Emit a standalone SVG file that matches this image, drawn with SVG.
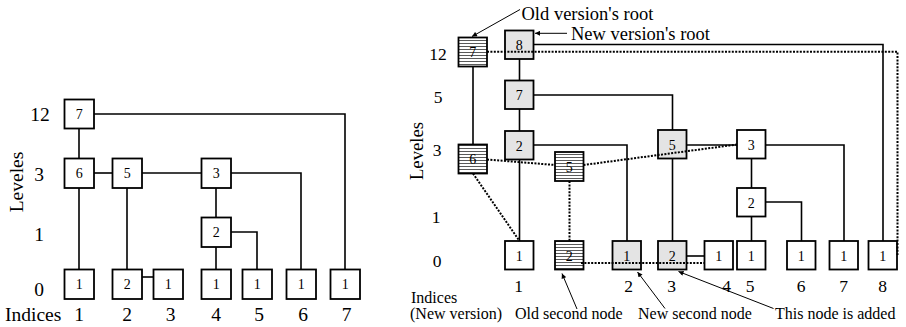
<svg xmlns="http://www.w3.org/2000/svg" width="906" height="327" viewBox="0 0 906 327">
<defs>
<pattern id="hatch" patternUnits="userSpaceOnUse" width="6" height="3">
<rect width="6" height="3" fill="#ffffff"/>
<line x1="0" y1="1.5" x2="6" y2="1.5" stroke="#5a5a5a" stroke-width="1"/>
</pattern>
<marker id="ah" viewBox="0 0 10 10" refX="10" refY="5" markerWidth="7" markerHeight="5" orient="auto" markerUnits="userSpaceOnUse">
<path d="M0,0 L10,5 L0,10 z" fill="#000"/>
</marker>
</defs>
<style>
text{font-family:"Liberation Serif","Times New Roman",serif;fill:#000}
.box rect{stroke:#000;stroke-width:1.8}
.w rect{fill:#fff}
.g rect{fill:#e4e4e4}
.h rect{fill:url(#hatch)}
.box text{font-size:14px;text-anchor:middle}
.lbl{font-size:19.5px}
.rl{font-size:17.5px}
.c{text-anchor:middle}
.ann{font-size:16px}
.top{font-size:18.5px}
.sol{fill:none;stroke:#000;stroke-width:1.6}
.dot{fill:none;stroke:#000;stroke-width:2;stroke-dasharray:2 1.4}
.arr{fill:none;stroke:#000;stroke-width:1;marker-end:url(#ah)}
</style>

<!-- LEFT connectors -->
<g id="left-connectors">
<path class="sol" d="M94,114 H345 V269.5"/>
<path class="sol" d="M79,128.5 V158.5"/>
<path class="sol" d="M94,173 H112.5"/>
<path class="sol" d="M142,173 H201.5"/>
<path class="sol" d="M231,173 H301 V269.5"/>
<path class="sol" d="M216,188 V217.5"/>
<path class="sol" d="M231,232 H257 V269.5"/>
<path class="sol" d="M216,247 V269.5"/>
<path class="sol" d="M79,188 V269.5"/>
<path class="sol" d="M127,188 V269.5"/>
<path class="sol" d="M142,277 H153.5"/>
</g>

<!-- LEFT nodes -->
<g id="L-root7" class="box w"><rect x="64.5" y="99.5" width="29.5" height="29"/><text x="79.2" y="118.5">7</text></g>
<g id="L-6" class="box w"><rect x="64.5" y="158.5" width="29.5" height="29.5"/><text x="79.2" y="178">6</text></g>
<g id="L-5" class="box w"><rect x="112.5" y="158.5" width="29.5" height="29.5"/><text x="127.2" y="178">5</text></g>
<g id="L-3" class="box w"><rect x="201.5" y="158.5" width="29.5" height="29.5"/><text x="216.2" y="178">3</text></g>
<g id="L-2" class="box w"><rect x="201.5" y="217.5" width="29.5" height="29.5"/><text x="216.2" y="237">2</text></g>
<g id="L-leaf1" class="box w"><rect x="64.5" y="269.5" width="29.5" height="29.5"/><text x="79.2" y="289">1</text></g>
<g id="L-leaf2" class="box w"><rect x="112.5" y="269.5" width="29.5" height="29.5"/><text x="127.2" y="289">2</text></g>
<g id="L-leaf3" class="box w"><rect x="153.5" y="269.5" width="29.5" height="29.5"/><text x="168.2" y="289">1</text></g>
<g id="L-leaf4" class="box w"><rect x="201.5" y="269.5" width="29.5" height="29.5"/><text x="216.2" y="289">1</text></g>
<g id="L-leaf5" class="box w"><rect x="242.5" y="269.5" width="29.5" height="29.5"/><text x="257.2" y="289">1</text></g>
<g id="L-leaf6" class="box w"><rect x="286.5" y="269.5" width="29.5" height="29.5"/><text x="301.2" y="289">1</text></g>
<g id="L-leaf7" class="box w"><rect x="330.5" y="269.5" width="29.5" height="29.5"/><text x="345.2" y="289">1</text></g>

<!-- LEFT labels -->
<g id="L-labels">
<text class="lbl c" x="40" y="121">12</text>
<text class="lbl c" x="39" y="181">3</text>
<text class="lbl c" x="39" y="241">1</text>
<text class="lbl c" x="39" y="296">0</text>
<text class="lbl c" transform="translate(23,182) rotate(-90)">Leveles</text>
<text class="lbl" x="5" y="321">Indices</text>
<text class="lbl c" x="79" y="321">1</text>
<text class="lbl c" x="127" y="321">2</text>
<text class="lbl c" x="170.5" y="321">3</text>
<text class="lbl c" x="216" y="321">4</text>
<text class="lbl c" x="259" y="321">5</text>
<text class="lbl c" x="303" y="321">6</text>
<text class="lbl c" x="346.5" y="321">7</text>
</g>

<!-- RIGHT solid connectors (under nodes) -->
<g id="right-connectors">
<path class="sol" d="M473,66 V144.5"/>
<path class="sol" d="M533.5,44.5 H883 V241"/>
<path class="sol" d="M519.5,59 V80.5"/>
<path class="sol" d="M533.5,95 H672.5 V130"/>
<path class="sol" d="M519.5,109 V131"/>
<path class="sol" d="M533.5,145 H627 V241"/>
<path class="sol" d="M519.5,159.5 V241"/>
<path class="sol" d="M686.5,145 H737"/>
<path class="sol" d="M672.5,158.5 V241"/>
<path class="sol" d="M765.5,145 H844 V241"/>
<path class="sol" d="M751.5,158.5 V188"/>
<path class="sol" d="M765.5,202 H801.5 V241"/>
<path class="sol" d="M751.5,216.5 V241"/>
<path class="sol" d="M686.5,256 H704.5"/>
</g>

<!-- RIGHT nodes -->
<g id="R-oldroot7" class="box h"><rect x="458.5" y="37.5" width="28.5" height="29"/><text x="472.8" y="56.5">7</text></g>
<g id="R-newroot8" class="box g"><rect x="505" y="30.5" width="28.5" height="28.5"/><text x="519.3" y="50">8</text></g>
<g id="R-new7" class="box g"><rect x="505" y="80.5" width="28.5" height="28.5"/><text x="519.3" y="100">7</text></g>
<g id="R-new2" class="box g"><rect x="505" y="131" width="28.5" height="28.5"/><text x="519.3" y="150.5">2</text></g>
<g id="R-old6" class="box h"><rect x="458.5" y="144.5" width="28.5" height="29"/><text x="472.8" y="164">6</text></g>
<g id="R-old5" class="box h"><rect x="555" y="152" width="28.5" height="29"/><text x="569.3" y="171.5">5</text></g>
<g id="R-new5" class="box g"><rect x="658" y="130" width="28.5" height="28.5"/><text x="672.3" y="149.5">5</text></g>
<g id="R-3" class="box w"><rect x="737" y="130" width="28.5" height="28.5"/><text x="751.3" y="149.5">3</text></g>
<g id="R-2" class="box w"><rect x="737" y="188" width="28.5" height="28.5"/><text x="751.3" y="207.5">2</text></g>
<g id="R-leaf1" class="box w"><rect x="505" y="241" width="28.5" height="28.5"/><text x="519.3" y="260.5">1</text></g>
<g id="R-old2" class="box h"><rect x="555" y="241" width="28.5" height="28.5"/><text x="569.3" y="260.5">2</text></g>
<g id="R-newleaf1" class="box g"><rect x="612.5" y="241" width="28.5" height="28.5"/><text x="626.8" y="260.5">1</text></g>
<g id="R-newleaf2" class="box g"><rect x="658" y="241" width="28.5" height="28.5"/><text x="672.3" y="260.5">2</text></g>
<g id="R-leaf4" class="box w"><rect x="704.5" y="241" width="28.5" height="28.5"/><text x="718.8" y="260.5">1</text></g>
<g id="R-leaf5" class="box w"><rect x="737" y="241" width="28.5" height="28.5"/><text x="751.3" y="260.5">1</text></g>
<g id="R-leaf6" class="box w"><rect x="787" y="241" width="28.5" height="28.5"/><text x="801.3" y="260.5">1</text></g>
<g id="R-leaf7" class="box w"><rect x="829.5" y="241" width="28.5" height="28.5"/><text x="843.8" y="260.5">1</text></g>
<g id="R-leaf8" class="box w"><rect x="868.5" y="241" width="28.5" height="28.5"/><text x="882.8" y="260.5">1</text></g>

<!-- RIGHT dotted (old version) connectors, drawn over nodes -->
<g id="old-connectors">
<path class="dot" d="M487,51.7 H897.5 V255"/>
<path class="dot" d="M487,159.5 L555,165"/>
<path class="dot" d="M583.5,165 L737,144.5"/>
<path class="dot" d="M473,173.5 L519.5,241"/>
<path class="dot" d="M569.5,181 V241"/>
<path class="dot" d="M581,263 H704.5"/>
</g>

<!-- annotation arrows -->
<g id="annotation-arrows">
<line class="arr" x1="520" y1="9.5" x2="472" y2="36.5"/>
<line class="arr" x1="567" y1="33.3" x2="535" y2="33.3"/>
<line class="arr" x1="577" y1="309" x2="562" y2="273.5"/>
<line class="arr" x1="665" y1="308.5" x2="637.5" y2="272"/>
<line class="arr" x1="773.5" y1="308.5" x2="678.5" y2="271.5"/>
</g>

<!-- RIGHT labels -->
<g id="R-labels">
<text class="top" x="521.5" y="20">Old version's root</text>
<text class="top" x="571" y="39.5">New version's root</text>
<text class="rl c" x="438" y="59.5">12</text>
<text class="rl c" x="438" y="102.5">5</text>
<text class="rl c" x="437" y="156">3</text>
<text class="rl c" x="436" y="223">1</text>
<text class="rl c" x="437" y="267">0</text>
<text class="rl c" transform="translate(423,151) rotate(-90)" style="font-size:18.7px">Leveles</text>
<text class="rl c" x="518.5" y="291.5">1</text>
<text class="rl c" x="628.5" y="291.5">2</text>
<text class="rl c" x="671.5" y="291.5">3</text>
<text class="rl c" x="726.5" y="291.5">4</text>
<text class="rl c" x="750" y="291.5">5</text>
<text class="rl c" x="801" y="291.5">6</text>
<text class="rl c" x="843.5" y="291.5">7</text>
<text class="rl c" x="882.5" y="291.5">8</text>
<text class="ann" x="411" y="303">Indices</text>
<text class="ann" x="410" y="319">(New version)</text>
<text class="ann" x="515" y="319">Old second node</text>
<text class="ann" x="638" y="319">New second node</text>
<text class="ann" x="775" y="319">This node is added</text>
</g>
</svg>
